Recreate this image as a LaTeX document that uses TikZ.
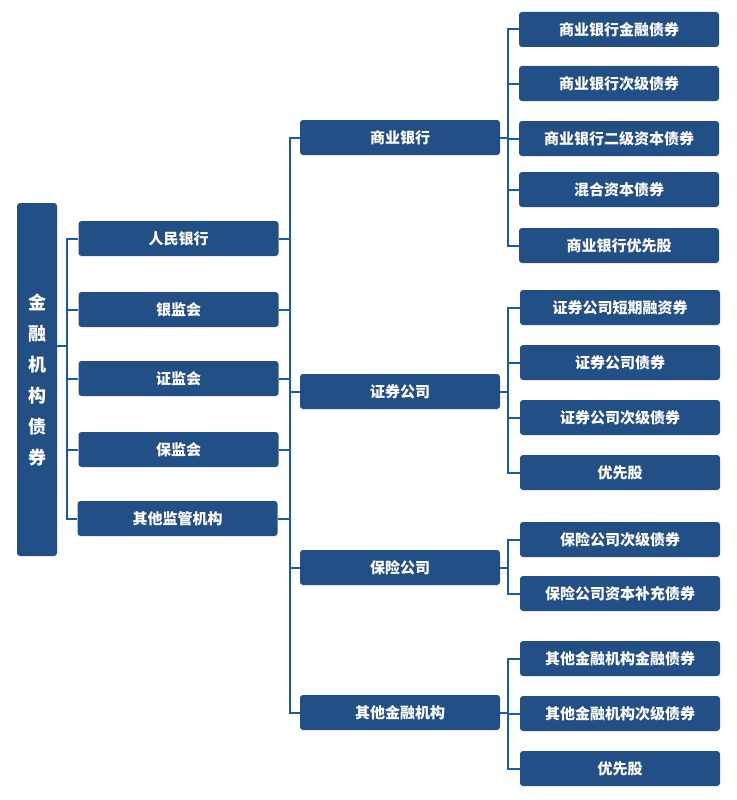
\documentclass[tikz,border=0pt]{standalone}
\usepackage{fontspec}
\setmainfont{Noto Sans CJK SC}
\definecolor{boxblue}{RGB}{35,79,135}
\definecolor{lineblue}{RGB}{22,93,165}
\tikzset{
  box/.style={fill=boxblue, rounded corners=3pt, minimum width=200pt,
    minimum height=35pt, inner sep=0pt, text=white,
    font=\bfseries\fontsize{15}{17}\selectfont},
  rootbox/.style={box, minimum width=40pt, minimum height=353pt, align=center,
    font=\bfseries\fontsize{18}{31}\selectfont},
  link/.style={draw=lineblue, line width=2pt},
}
\begin{document}
\begin{tikzpicture}[x=1pt,y=-1pt]
      \useasboundingbox (0,0) rectangle (736,800);
      \node[rootbox] (root) at (37,379.5) {金\\融\\机\\构\\债\\券};
      % regulators
      \node[box] (pboc) at (178.5,238.5) {人民银行};
      \node[box] (cbrc) at (178.5,309.5) {银监会};
      \node[box] (csrc) at (178.5,378.5) {证监会};
      \node[box] (circ) at (178.5,449.5) {保监会};
      \node[box] (other) at (177.5,518.5) {其他监管机构};
      % issuers
      \node[box] (bank) at (400,137.5) {商业银行};
      \node[box] (sec) at (400,391.5) {证券公司};
      \node[box] (ins) at (400,567.5) {保险公司};
      \node[box] (ofi) at (400,712.5) {其他金融机构};
      % bonds
      \node[box] (bank1) at (619,29.5) {商业银行金融债券};
      \node[box] (bank2) at (619,83.5) {商业银行次级债券};
      \node[box] (bank3) at (619,138.5) {商业银行二级资本债券};
      \node[box] (bank4) at (619,189.5) {混合资本债券};
      \node[box] (bank5) at (619,245.5) {商业银行优先股};
      \node[box] (sec1) at (620,307.5) {证券公司短期融资券};
      \node[box] (sec2) at (620,362.5) {证券公司债券};
      \node[box] (sec3) at (620,417.5) {证券公司次级债券};
      \node[box] (sec4) at (620,472.5) {优先股};
      \node[box] (ins1) at (620,539.5) {保险公司次级债券};
      \node[box] (ins2) at (620,593.5) {保险公司资本补充债券};
      \node[box] (ofi1) at (620,658.5) {其他金融机构金融债券};
      \node[box] (ofi2) at (620,713.5) {其他金融机构次级债券};
      \node[box] (ofi3) at (620,768.5) {优先股};
      \begin{scope}[link]
        \draw ([yshift=33.5pt]root.east) -- ++(11,0);
        \draw (pboc.west) -- ++(-11,0) |- (other.west);
        \draw (cbrc.west) -- ++(-11,0);
        \draw (csrc.west) -- ++(-11,0);
        \draw (circ.west) -- ++(-11,0);
        \draw (pboc.east) -- ++(11.5,0);
        \draw (cbrc.east) -- ++(11.5,0);
        \draw (csrc.east) -- ++(11.5,0);
        \draw (circ.east) -- ++(11.5,0);
        \draw (other.east) -- ++(12.5,0);
        \draw (bank.west) -- ++(-10,0) |- (ofi.west);
        \draw (sec.west) -- ++(-10,0);
        \draw (ins.west) -- ++(-10,0);
        \draw (bank.east) -- ++(8,0);
        \draw (bank1.west) -- ++(-11,0) |- (bank5.west);
        \draw (bank2.west) -- ++(-11,0);
        \draw (bank3.west) -- ++(-11,0);
        \draw (bank4.west) -- ++(-11,0);
        \draw (sec.east) -- ++(8,0);
        \draw (sec1.west) -- ++(-12,0) |- (sec4.west);
        \draw (sec2.west) -- ++(-12,0);
        \draw (sec3.west) -- ++(-12,0);
        \draw (ins.east) -- ++(8,0);
        \draw (ins1.west) -- ++(-12,0) |- (ins2.west);
        \draw (ofi.east) -- ++(8,0);
        \draw (ofi1.west) -- ++(-12,0) |- (ofi3.west);
        \draw (ofi2.west) -- ++(-12,0);
      \end{scope}
    \end{tikzpicture}
\end{document}
